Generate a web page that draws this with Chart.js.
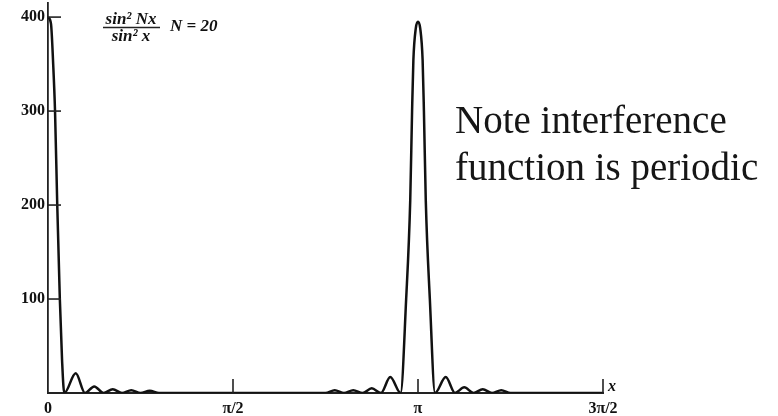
<!DOCTYPE html>
<html>
<head>
<meta charset="utf-8">
<script src="https://cdn.jsdelivr.net/npm/chart.js@4.4.1/dist/chart.umd.min.js"></script>
<style>
  html, body { margin: 0; padding: 0; background: #ffffff; }
  #wrap { width: 778px; height: 416px; }
</style>
</head>
<body>
<div id="wrap"><canvas id="c" width="778" height="416"></canvas></div>
<script>
// x in units of pi, y = sin^2(Nx)/sin^2(x)
const curveX = [
  0, 0.008, 0.014, 0.019, 0.025, 0.032, 0.038, 0.044,
  0.075, 0.1, 0.125, 0.15, 0.175, 0.2, 0.225, 0.25, 0.275, 0.3,
  0.75, 0.775, 0.8, 0.825, 0.85, 0.875, 0.9, 0.925, 0.953,
  0.968, 0.979, 0.984, 0.9875, 0.994, 1.0, 1.006, 1.0125, 1.016, 1.021, 1.032, 1.046,
  1.075, 1.1, 1.125, 1.15, 1.175, 1.2, 1.225, 1.25, 1.5
];
const curveY = [
  400, 393, 350, 300, 200, 100, 35, 0,
  21, 0, 7, 0, 4, 0, 3, 0, 2.5, 0,
  0, 3, 0, 3, 0, 5, 0, 17, 0,
  100, 205, 300, 354, 388, 395, 388, 354, 300, 205, 100, 0,
  17, 0, 6, 0, 4, 0, 3, 0, 0
];
const xTickValues = [0, 0.5, 1, 1.5];
const xTickLabels = ['0', 'π/2', 'π', '3π/2'];
const yTickValues = [100, 200, 300, 400];
const noteLines = ['Note interference', 'function is periodic'];

const points = curveX.map((x, i) => ({ x: x, y: curveY[i] }));

const inwardTicks = {
  id: 'inwardTicks',
  afterDatasetsDraw(chart) {
    const { ctx, chartArea, scales } = chart;
    ctx.save();
    ctx.strokeStyle = '#222';
    ctx.lineWidth = 1.6;
    yTickValues.forEach(v => {
      const y = scales.y.getPixelForValue(v);
      ctx.beginPath();
      ctx.moveTo(chartArea.left - 1, y);
      ctx.lineTo(chartArea.left + 13, y);
      ctx.stroke();
    });
    xTickValues.forEach(v => {
      if (v === 0) return;
      const x = scales.x.getPixelForValue(v);
      ctx.beginPath();
      ctx.moveTo(x, chartArea.bottom);
      ctx.lineTo(x, chartArea.bottom - 14);
      ctx.stroke();
    });
    // axis variable label
    ctx.fillStyle = '#111';
    ctx.font = 'bold italic 16px "Liberation Serif"';
    ctx.textAlign = 'left';
    ctx.textBaseline = 'alphabetic';
    ctx.fillText('x', chartArea.right + 5, chartArea.bottom - 2);

    // formula
    ctx.font = 'bold italic 17px "Liberation Serif"';
    ctx.textAlign = 'center';
    ctx.fillText('sin² Nx', 131, 24);
    ctx.fillText('sin² x', 131, 41);
    ctx.beginPath();
    ctx.lineWidth = 1.4;
    ctx.moveTo(103, 27.5);
    ctx.lineTo(160, 27.5);
    ctx.stroke();
    ctx.textAlign = 'left';
    ctx.fillText('N = 20', 170, 31);

    // note
    ctx.font = '39px "Liberation Serif"';
    ctx.fillStyle = '#161616';
    ctx.fillText(noteLines[0], 455, 133);
    ctx.fillText(noteLines[1], 455, 180);
    ctx.restore();
  }
};

new Chart(document.getElementById('c'), {
  type: 'scatter',
  data: {
    datasets: [{
      data: points,
      showLine: true,
      borderColor: '#111',
      borderWidth: 2.5,
      pointRadius: 0,
      cubicInterpolationMode: 'monotone',
      fill: false
    }]
  },
  options: {
    responsive: false,
    animation: false,
    devicePixelRatio: 1,
    layout: { padding: { top: 3, right: 175, left: 0, bottom: 0 } },
    plugins: { legend: { display: false }, tooltip: { enabled: false } },
    scales: {
      x: {
        type: 'linear',
        min: 0,
        max: 1.5,
        afterBuildTicks: s => { s.ticks = xTickValues.map(v => ({ value: v })); },
        afterFit: s => { s.height = 23; s.paddingLeft = 0; s.paddingRight = 0; },
        grid: { display: false, drawTicks: false },
        border: { display: true, color: '#222', width: 2 },
        ticks: {
          padding: 6,
          maxRotation: 0,
          autoSkip: false,
          color: '#111',
          font: { family: '"Liberation Serif"', size: 16, weight: 'bold' },
          callback: (v, i) => xTickLabels[i]
        }
      },
      y: {
        type: 'linear',
        min: 0,
        max: 415,
        afterBuildTicks: s => { s.ticks = yTickValues.map(v => ({ value: v })); },
        afterFit: s => { s.width = 48; s.paddingTop = 0; s.paddingBottom = 0; },
        grid: { display: false, drawTicks: false },
        border: { display: true, color: '#222', width: 1.8 },
        ticks: {
          padding: 3,
          color: '#111',
          font: { family: '"Liberation Serif"', size: 16, weight: 'bold' },
          callback: (v) => String(v)
        }
      }
    }
  },
  plugins: [inwardTicks]
});
</script>
</body>
</html>
